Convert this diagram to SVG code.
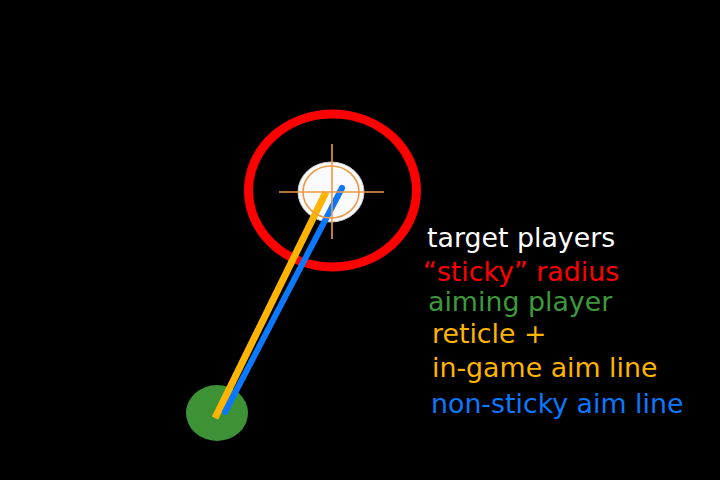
<svg xmlns="http://www.w3.org/2000/svg" width="720" height="480" viewBox="0 0 720 480">
<style>
.lbl{font-family:"DejaVu Sans","Liberation Sans",sans-serif;font-size:26.8px}
.cross{stroke:#ec9a45;stroke-width:1.6;fill:none}
</style>
<rect width="720" height="480" fill="#000"/>
<g id="sticky-radius">
<ellipse cx="332.5" cy="190.5" rx="84" ry="76.5" fill="none" stroke="#ff0000" stroke-width="9"/>
</g>
<g id="aiming-player">
<ellipse cx="217" cy="413" rx="31" ry="28" fill="#3d9236"/>
</g>
<g id="target-player">
<ellipse cx="331" cy="192" rx="33" ry="30" fill="#fbfbfd" stroke="#cccccc" stroke-width="1"/>
</g>
<g id="connectors">
<line x1="215" y1="418" x2="326" y2="192" stroke="#ffb400" stroke-width="7"/>
<line x1="225" y1="412" x2="342" y2="188" stroke="#0a78ff" stroke-width="6" stroke-linecap="round"/>
</g>
<g id="reticle">
<ellipse class="cross" cx="331" cy="192" rx="28" ry="26"/>
<line class="cross" x1="279" y1="192" x2="384" y2="192"/>
<line class="cross" x1="332" y1="144" x2="332" y2="239"/>
</g>
<g id="legend">
<text class="lbl" x="427" y="247" fill="#ffffff">target players</text>
<text class="lbl" x="423" y="281" fill="#ff0000">“sticky” radius</text>
<text class="lbl" x="428" y="311" fill="#3d9a3a">aiming player</text>
<text class="lbl" x="432" y="343" fill="#ffb400">reticle +</text>
<text class="lbl" x="432" y="377" fill="#ffb400">in-game aim line</text>
<text class="lbl" x="431" y="413" fill="#0a78ff">non-sticky aim line</text>
</g>
</svg>
